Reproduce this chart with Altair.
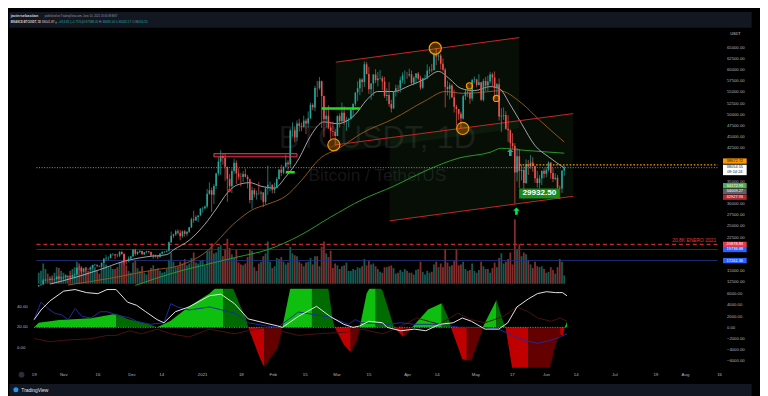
import altair as alt
import numpy as np
import pandas as pd

# ======================= DATA =======================
start_date = "2020-10-19"
first_open = 11502.0

closes = [
    11750, 11910, 12820, 12970, 12930, 13110, 13030, 13070, 13640, 13280, 13460, 13560, 13800,
    13740, 13550, 14020, 14150, 15590, 15580, 14830, 15480, 15330, 15300, 15700, 16280, 16320, 16070, 15960,
    16720, 17660, 17800, 17820, 18660, 18690, 18420, 18370, 19160, 18720, 17150, 17140, 17720, 18180, 19700,
    18770, 19210, 19420, 18650, 19150, 19360, 19170, 18320, 18550, 18250, 18030, 18800, 19170, 19270, 19440,
    21340, 22800, 23110, 23820, 23460, 22720, 23820, 23240, 23730, 24710, 26490, 26280, 27040, 27360, 28890, 28980,
    29370, 32200, 33000, 31990, 33950, 36770, 39410, 40670, 40240, 38240, 35540, 33910, 37320, 39140, 36770,
    36010, 35990, 36630, 36020, 35470, 30830, 33010, 32080, 32260, 32250, 32510, 30400, 33400, 34260, 34260, 33090,
    33500, 35510, 37620, 36920, 38290, 39190, 38800, 46370, 46400, 44810, 47970, 47400, 47190, 48580,
    47930, 49130, 52120, 51550, 55910, 55840, 57410, 54090, 48890, 49680, 47020, 46280, 46100, 45140,
    49590, 48440, 50350, 48370, 48760, 48880, 50970, 52380, 54880, 55850, 57770, 57220, 61190, 59000, 55600,
    56900, 58910, 57650, 58030, 58100, 57350, 54080, 54340, 52300, 51300, 55030, 55820, 55780, 57630, 58730, 58740,
    58720, 58970, 57060, 58200, 59130, 58000, 55950, 58080, 58090, 59770, 60000, 59860, 63580, 62960, 63160,
    61330, 60000, 56150, 55660, 56470, 53800, 51700, 51190, 50100, 49060, 54030, 55030, 54860, 53560, 57690,
    57800, 56580, 57160, 53240, 57470, 56430, 57340, 58930, 58230, 55850, 56750, 49500, 49690, 49860, 46760,
    46430, 43540, 42910, 36960, 40600, 37290, 37530, 34650, 38800, 38310, 39240, 38440, 35660, 34610, 35680, 37300,
    36690, 37570, 39190, 36840, 35520, 35800, 33550, 33380, 37390, 38054.55,
]
highs = [
    11800, 12030, 13220, 13180, 13030, 13170, 13350, 13250, 13790, 13860, 13640, 13680, 14100,
    13900, 13820, 14070, 14260, 15750, 15970, 15770, 15650, 15840, 15480, 15970, 16340, 16480, 16330, 16150,
    16880, 17860, 18480, 18180, 18800, 18960, 18700, 18770, 19420, 19480, 18920, 17460, 18180, 18340, 19860,
    19890, 19340, 19600, 19510, 19180, 19420, 19410, 19290, 18640, 18560, 18280, 18950, 19410, 19350, 19570,
    21560, 23770, 23280, 24170, 24290, 24100, 23990, 24100, 23800, 24790, 26870, 28420, 27390, 27400, 28990, 29300,
    29600, 33300, 34780, 33600, 34360, 36940, 40370, 41950, 41380, 41350, 38260, 36630, 37850, 40100, 39700,
    37950, 36850, 37300, 37850, 36420, 35600, 33830, 33460, 32940, 34880, 32920, 32560, 33780, 38530, 34930, 34280,
    34720, 35980, 37660, 38700, 38310, 40960, 39700, 46790, 48200, 47310, 48630, 48980, 48150, 49710,
    49000, 50650, 52620, 52480, 56370, 57490, 58350, 57530, 54180, 51370, 52000, 48370, 48390, 46640,
    49790, 50200, 52640, 51770, 49450, 49200, 51450, 52400, 54900, 57390, 58150, 58060, 61840, 61680, 60630,
    56930, 58970, 60100, 59470, 59880, 58590, 58400, 55830, 57200, 53240, 55070, 56640, 56560, 58400, 59370, 59800,
    59490, 60200, 59790, 58490, 59250, 59480, 58650, 58150, 58870, 61200, 60690, 61300, 63770, 64850, 63820,
    63590, 62500, 60400, 57530, 57100, 56770, 55500, 52140, 51170, 50590, 54360, 55460, 56430, 55200, 57960,
    58450, 57950, 58970, 57200, 57960, 58380, 58650, 59500, 59300, 59600, 57000, 58000, 51370, 51560, 50700,
    49800, 46640, 45800, 43550, 42450, 42200, 38830, 38270, 39920, 39790, 40900, 40410, 38200, 37340, 36400, 37470,
    37900, 38230, 39480, 39290, 37920, 36790, 36400, 34070, 37530, 38491.00,
]
lows = [
    11410, 11680, 11900, 12680, 12730, 12890, 12900, 12780, 13040, 12980, 12950, 13110, 13420,
    13600, 13200, 13290, 13530, 14090, 15180, 14350, 14700, 14820, 15100, 15280, 15430, 15960, 15700, 15790,
    15880, 16560, 17210, 17330, 17770, 18330, 17610, 18000, 18020, 18570, 16330, 16440, 16880, 17520, 18170,
    18320, 18510, 18960, 18590, 18500, 18860, 18900, 18200, 17650, 17910, 17570, 18020, 18710, 19000, 19050,
    19290, 21230, 22350, 22750, 23060, 21810, 22350, 22600, 22700, 23430, 24500, 25700, 26100, 25880, 27320, 28000,
    28620, 28950, 32000, 28130, 29900, 33290, 36300, 36500, 38720, 35110, 30420, 32530, 32380, 36700, 34410,
    35360, 33850, 34870, 35880, 33400, 30070, 28850, 31390, 30900, 31900, 30840, 29240, 29840, 31990, 32820, 32300,
    32300, 33420, 35360, 36160, 36570, 38210, 37350, 37990, 45020, 43730, 43990, 46130, 46200, 47020,
    45570, 47020, 48950, 50900, 50710, 53860, 55480, 46930, 44890, 47000, 46700, 44100, 45000, 43000,
    45110, 47050, 48100, 47500, 46300, 47070, 48880, 49270, 51850, 53000, 54270, 54960, 56080, 58960, 54570,
    53270, 54120, 57020, 56270, 57820, 55450, 53650, 53000, 51700, 50430, 51280, 53960, 54700, 54900, 57000, 56770,
    57930, 58400, 56800, 56480, 56800, 57630, 55470, 55700, 57690, 57870, 59000, 59380, 59870, 61000, 62020,
    60000, 59580, 51540, 54220, 53330, 53630, 50400, 47500, 48750, 47000, 48810, 53220, 53890, 52330, 53010,
    57050, 56020, 56460, 53000, 52880, 55200, 55240, 56900, 56230, 53400, 54370, 48600, 46000, 48760, 46550,
    43830, 42000, 42250, 30000, 34950, 33490, 35200, 31110, 34420, 36420, 37800, 37130, 34680, 33630, 33380, 34150,
    35670, 35920, 37170, 35570, 34800, 35250, 33330, 31000, 32400, 36242.57,
]
volume_k = [
    60, 70, 110, 80, 55, 40, 45, 60, 90, 85, 70, 60, 50,
    45, 70, 80, 90, 120, 110, 95, 70, 90, 70, 85, 100, 90, 70, 55, 95, 110, 105, 90, 95, 80, 80, 90, 115, 120,
    160, 100, 70, 60, 115,
    130, 85, 70, 95, 60, 50, 70, 85, 100, 80, 85, 70, 60, 65, 80, 130, 170, 120, 90, 95, 120, 110, 135, 100,
    110, 140, 170, 115, 110, 125, 130,
    100, 175, 180, 220, 165, 170, 200, 210, 150, 190, 245, 195, 160, 140, 185, 115, 105, 100, 110, 145, 185,
    180, 90, 70, 110, 120, 150, 165, 230, 120, 85,
    95, 140, 135, 145, 120, 105, 115, 200, 165, 155, 150, 120, 110, 95, 115, 120, 140, 105, 150, 150, 95, 200,
    230, 165, 145, 180, 85, 110,
    100, 80, 95, 100, 115, 70, 70, 80, 75, 90, 85, 95, 135, 100, 125, 105, 110, 95, 80, 65, 60, 90, 90, 95,
    100, 85, 55, 60, 75, 65, 80,
    70, 60, 60, 50, 75, 80, 120, 65, 50, 70, 60, 65, 105, 120, 90, 110, 90, 185, 115, 95, 100, 125, 190, 100,
    105, 120, 80, 70, 75, 110,
    70, 60, 75, 120, 95, 80, 80, 60, 85, 115, 90, 140, 165, 110, 120, 135, 170, 105, 350, 190, 215, 150, 170,
    160, 130, 105, 85, 120, 95, 90, 95,
    80, 60, 65, 90, 75, 55, 90, 135, 120, 45,
]

# moving averages
ma_fast_dates = ["2020-10-24", "2020-11-05", "2020-11-15", "2020-11-26", "2020-12-06", "2020-12-15",
                 "2020-12-18", "2020-12-25", "2021-01-01", "2021-01-06", "2021-01-11", "2021-01-15",
                 "2021-01-21", "2021-01-26", "2021-02-01", "2021-02-06", "2021-02-12", "2021-02-17",
                 "2021-02-23", "2021-03-01", "2021-03-09", "2021-03-14", "2021-03-19", "2021-03-26",
                 "2021-04-02", "2021-04-09", "2021-04-15", "2021-04-20", "2021-04-25", "2021-05-01",
                 "2021-05-08", "2021-05-12", "2021-05-17", "2021-05-22", "2021-05-28", "2021-06-03",
                 "2021-06-10"]
ma_fast = [12000, 13600, 15200, 17100, 18100, 18600, 19650, 21800, 25400, 28800, 32400, 34100, 34700,
           33900, 33500, 36000, 40200, 45100, 48300, 47900, 50000, 53200, 55100, 55100, 56400, 57900,
           59600, 57900, 55800, 55300, 56200, 55800, 52100, 47900, 43000, 40500, 38000]
ma_mid_dates = ["2020-11-01", "2020-11-20", "2020-12-11", "2020-12-18", "2021-01-01", "2021-01-15",
                "2021-01-22", "2021-01-29", "2021-02-06", "2021-02-13", "2021-02-21", "2021-03-02",
                "2021-03-12", "2021-03-26", "2021-04-09", "2021-04-18", "2021-04-26", "2021-05-08",
                "2021-05-12", "2021-05-22", "2021-05-30", "2021-06-10"]
ma_mid = [11800, 13300, 15300, 15800, 19000, 26000, 28600, 29900, 31700, 35200, 40000, 42500, 45800,
          49000, 53000, 55100, 54700, 55100, 55300, 52500, 48700, 43800]
ma_slow_dates = ["2020-12-01", "2020-12-18", "2021-01-06", "2021-01-15", "2021-01-29", "2021-02-12",
                 "2021-02-26", "2021-03-12", "2021-03-26", "2021-04-09", "2021-04-24", "2021-05-08",
                 "2021-05-13", "2021-05-22", "2021-06-10"]
ma_slow = [11700, 14500, 16900, 18000, 19700, 22800, 27000, 30900, 33900, 37300, 40200, 41500, 42400,
           42000, 41300]

# drawn channels
channel_start = ["2021-02-28 07:00", "2021-02-28 07:00", "2021-03-24 05:00"]
channel_end = ["2021-05-21", "2021-06-14", "2021-06-14"]
channel_p0 = [61670, 43170, 26150]
channel_p1 = [67180, 50160, 31660]
zone_start = ["2021-02-28 07:00", "2021-03-24 05:00"]
zone_end = ["2021-05-21", "2021-06-14"]
zone_top0 = [61670, 44760]
zone_top1 = [67180, 50160]
zone_bot0 = [41470, 26150]
zone_bot1 = [46870, 31660]

# horizontal levels
level_prices = [20878.83, 19736.68, 17261.36, 38054.55, 38672.72]
level_start = ["2020-10-18", "2020-10-18", "2020-10-18", "2020-10-18", "2021-05-21"]

# annotations
circle_dates = ["2021-02-27 10:00", "2021-04-13 14:00", "2021-04-25 19:00"]
circle_prices = [43170, 64790, 46840]
small_circle_dates = ["2021-04-28 19:00", "2021-05-10 19:00"]
small_circle_prices = [56370, 53550]
gbar_start = ["2021-02-22", "2021-02-06"]
gbar_end = ["2021-03-11", "2021-02-10"]
gbar_price = [51290, 37020]
rbox_start, rbox_end, rbox_lo, rbox_hi = "2021-01-05", "2021-02-11", 40480, 41200
rdot_date, rdot_price = "2021-01-12", 33000
arrow_dates = ["2021-05-19 17:00", "2021-05-17"]
arrow_prices = [28330, 41480]
low_label_date, low_label_price, low_label_text = "2021-05-29 22:00", 32280, "29932.50"
level_note = "20,8K ENERO 2021"

tag_prices = [38672.72, 38054.55, 34172.93, 34009.27, 32927.93, 20878.83, 19736.68, 17261.36]
tag_texts = ["38672.72", "38054.55", "34172.93", "34009.27", "32927.93", "20878.83", "19736.68", "17261.36"]
countdown = "09:14:24"
price_ticks = [12500, 15000, 22500, 25000, 27500, 30000, 35000, 42500, 45000, 47500, 50000,
               52500, 55000, 57500, 60000, 62500, 65000]

# header
author = "javiersebastian"
published = "published on TradingView.com, June 10, 2021 15:05:38 BST"
symbol = "BINANCE:BTCUSDT, 1D"
last_price = "38041.87"
change = "+653.82 (+1.75%)"
ohlc_o, ohlc_h, ohlc_l, ohlc_c = "37388.05", "38491.00", "36242.57", "38054.55"

# time axis
tick_dates = ["2020-10-19", "2020-11-01", "2020-11-16", "2020-12-01", "2020-12-14", "2021-01-01",
              "2021-01-18", "2021-02-01", "2021-02-15", "2021-03-01", "2021-03-15", "2021-04-01",
              "2021-04-14", "2021-05-01", "2021-05-17", "2021-06-01", "2021-06-14", "2021-07-01",
              "2021-07-19", "2021-08-01", "2021-08-16"]
tick_labels = ["19", "Nov", "16", "Dec", "14", "2021", "18", "Feb", "15", "Mar", "15", "Apr", "14",
               "May", "17", "Jun", "14", "Jul", "19", "Aug", "16"]

# lower indicator: momentum histogram
hist_dates = [
    "2020-10-19", "2020-10-21", "2020-10-30", "2020-11-13", "2020-11-24",
    "2020-11-24", "2020-11-29", "2020-12-08", "2020-12-12",
    "2020-12-12", "2020-12-18", "2020-12-26", "2021-01-04", "2021-01-08", "2021-01-10",
    "2021-01-10", "2021-01-14", "2021-01-17", "2021-01-20", "2021-01-21",
    "2021-01-21", "2021-01-26", "2021-01-28",
    "2021-01-28", "2021-02-03", "2021-02-05",
    "2021-02-05", "2021-02-09", "2021-02-18",
    "2021-02-18", "2021-02-25", "2021-02-27", "2021-02-28",
    "2021-02-28", "2021-03-04", "2021-03-07",
    "2021-03-07", "2021-03-10", "2021-03-11",
    "2021-03-11", "2021-03-14", "2021-03-16", "2021-03-18",
    "2021-03-18", "2021-03-21", "2021-03-24", "2021-03-26",
    "2021-03-26", "2021-03-30",
    "2021-03-30", "2021-04-01", "2021-04-03",
    "2021-04-03", "2021-04-10", "2021-04-16",
    "2021-04-16", "2021-04-19", "2021-04-20",
    "2021-04-20", "2021-04-25", "2021-04-27",
    "2021-04-27", "2021-04-29", "2021-05-03", "2021-05-04",
    "2021-05-04", "2021-05-10",
    "2021-05-10", "2021-05-13", "2021-05-14",
    "2021-05-14", "2021-05-17", "2021-05-24",
    "2021-05-24", "2021-06-02", "2021-06-05", "2021-06-07",
    "2021-06-07", "2021-06-08", "2021-06-09",
    "2021-06-09", "2021-06-10",
]
hist_vals = [
    0, 800, 1300, 1600, 2400,
    2400, 1450, 600, 0,
    0, 1160, 3700, 6000, 7500, 7800,
    7800, 7300, 4300, 1570, 0,
    0, -5370, -7100,
    -7100, -3670, 0,
    0, 8000, 9000,
    9000, 7500, 1450, 0,
    0, -3100, -4520,
    -4520, -2250, 0,
    0, 6000, 7500, 8000,
    8000, 6500, 2640, 0,
    0, -1680,
    -1680, -1110, 0,
    0, 3160, 4300,
    4300, 1500, 0,
    0, -5660, -5900,
    -5900, -5940, -1400, 0,
    0, 4860,
    4860, 890, 0,
    0, -7500, -9000,
    -9000, -8000, -3000, -1300,
    -1300, -1600, 0,
    0, 1000,
]
hist_kind = (["L"] * 5 + ["G"] * 4 + ["L"] * 6 + ["G"] * 5 + ["R"] * 3 + ["M"] * 3 + ["L"] * 3 + ["G"] * 4
             + ["R"] * 3 + ["M"] * 3 + ["L"] * 4 + ["G"] * 4 + ["R"] * 2 + ["M"] * 3 + ["L"] * 3 + ["G"] * 3
             + ["R"] * 3 + ["M"] * 4 + ["L"] * 2 + ["G"] * 3 + ["R"] * 3 + ["M"] * 4 + ["R"] * 3 + ["L"] * 2)

# lower indicator lines (left scale)
adx_dates = ["2020-10-19", "2020-10-22", "2020-10-26", "2020-11-01", "2020-11-06", "2020-11-11",
             "2020-11-16", "2020-11-20", "2020-11-24", "2020-11-29", "2020-12-03", "2020-12-07",
             "2020-12-12", "2020-12-15", "2020-12-20", "2020-12-26", "2021-01-04", "2021-01-09",
             "2021-01-15", "2021-01-21", "2021-01-28", "2021-02-03", "2021-02-05", "2021-02-12",
             "2021-02-20", "2021-02-26", "2021-03-04", "2021-03-08", "2021-03-11", "2021-03-15",
             "2021-03-21", "2021-03-23", "2021-03-29", "2021-04-04", "2021-04-09", "2021-04-15",
             "2021-04-21", "2021-04-25", "2021-04-29", "2021-05-05", "2021-05-11", "2021-05-15",
             "2021-05-19", "2021-05-24", "2021-05-28", "2021-06-01", "2021-06-05", "2021-06-08",
             "2021-06-10"]
adx_vals = [27.6, 37, 46, 55.5, 57, 54, 53, 57, 57, 44.7, 41.6, 35.3, 27.6, 24.5, 35.3, 40, 50.9, 52.5,
            43.2, 28.3, 24.5, 21.4, 20, 30.7, 40.6, 30.7, 23, 20, 21.4, 26, 24.5, 20, 16.7, 18.3, 16.7,
            23, 24.5, 29.2, 26, 18.3, 18.3, 24.5, 40, 47.8, 53, 54.9, 54, 54, 50.9]
dip_dates = ["2020-10-19", "2020-10-22", "2020-10-25", "2020-10-28", "2020-10-31", "2020-11-03",
             "2020-11-06", "2020-11-09", "2020-11-13", "2020-11-17", "2020-11-20", "2020-11-24",
             "2020-11-30", "2020-12-03", "2020-12-09", "2020-12-15", "2020-12-18", "2020-12-21",
             "2020-12-26", "2021-01-04", "2021-01-15", "2021-01-21", "2021-01-29", "2021-02-03",
             "2021-02-12", "2021-02-26", "2021-03-06", "2021-03-09", "2021-03-12", "2021-03-23",
             "2021-03-29", "2021-04-04", "2021-04-15", "2021-04-24", "2021-05-04", "2021-05-11",
             "2021-05-17", "2021-05-22", "2021-05-28", "2021-06-03", "2021-06-07", "2021-06-10"]
dip_vals = [27.6, 44.7, 38.5, 33.9, 32.3, 27.6, 38.5, 30.7, 29.2, 35.3, 35.3, 32.3, 29.2, 26, 23, 24.5,
            43.2, 40, 37, 40, 34, 24.5, 21.4, 20, 35, 30, 23, 27.6, 24.5, 23, 24.5, 23, 23, 20, 20, 18.3,
            12.1, 7.4, 4.4, 7.4, 10.6, 13.7]
dim_dates = ["2020-10-19", "2020-10-26", "2020-11-01", "2020-11-13", "2020-11-20", "2020-11-24",
             "2020-11-30", "2020-12-05", "2020-12-12", "2020-12-18", "2020-12-26", "2021-01-04",
             "2021-01-15", "2021-01-21", "2021-01-29", "2021-02-04", "2021-02-12", "2021-02-20",
             "2021-03-04", "2021-03-12", "2021-03-21", "2021-03-23", "2021-04-01", "2021-04-05",
             "2021-04-15", "2021-04-23", "2021-04-29", "2021-05-05", "2021-05-13", "2021-05-19",
             "2021-05-24", "2021-05-28", "2021-06-03", "2021-06-07", "2021-06-10"]
dim_vals = [9, 6, 7.4, 9, 12.1, 12.1, 16.7, 13.7, 18.3, 13.7, 10.6, 18.3, 13.7, 16.7, 20, 16.7, 12.1,
            13.7, 15.2, 18.3, 13.7, 15.2, 24.5, 29.2, 23, 33.9, 27.6, 24.5, 30.7, 40, 35.3, 29.2, 26,
            29.2, 26]
ind_level = 20
ind_left_ticks = [40, 20, 0]
ind_right_ticks = [6000, 4000, 2000, 0, -2000, -4000, -6000]

assert len(closes) == len(highs) == len(lows) == len(volume_k)
assert len(hist_dates) == len(hist_vals) == len(hist_kind)
assert len(adx_dates) == len(adx_vals) and len(dip_dates) == len(dip_vals) and len(dim_dates) == len(dim_vals)

# ======================= LAYOUT / STYLE =======================
REF = pd.Timestamp("2021-01-01")


def tnum(s):
    return (pd.Timestamp(s) - REF).total_seconds() / 86400.0


W = 723
FULL_W = 752
H_HEAD, H_MAIN, H_IND, H_TIME, H_FOOT = 16, 260, 80, 12, 12
FONT = "Liberation Sans"
AXC = "#b2b5be"
UP, DOWN = "#26a69a", "#ef5350"
X_DOM = [tnum("2020-10-07 23:00"), tnum("2021-08-17 06:30")]

xs = alt.Scale(domain=X_DOM, nice=False, zero=False)
price_sc = alt.Scale(domain=[11589, 69027], nice=False, zero=False)
vol_sc = alt.Scale(domain=[-11.8, 1384], nice=False, zero=False)
hist_sc = alt.Scale(domain=[-7239, 6849], nice=False, zero=False)
adx_sc = alt.Scale(domain=[-19.53, 57.67], nice=False, zero=False)


def XQ(f="t"):
    return alt.X(f"{f}:Q", scale=xs, axis=None)


def PY(f, axis=None):
    return alt.Y(f"{f}:Q", scale=price_sc, axis=axis)


one = pd.DataFrame({"a": [0]})

# ---------- candles table ----------
dates = pd.date_range(start_date, periods=len(closes), freq="D")
opens = [first_open] + closes[:-1]
cdf = pd.DataFrame({
    "t": [tnum(d) for d in dates], "open": opens, "high": highs, "low": lows,
    "close": closes, "vol": volume_k,
})
cdf["col"] = np.where(cdf["close"] >= cdf["open"], UP, DOWN)

# ======================= HEADER =======================
def htext(txt, x, y, color, bold=False, size=3.1, font=FONT):
    return alt.Chart(one).mark_text(
        text=txt, align="left", baseline="middle", fontSize=size, font=font,
        fontWeight="bold" if bold else "normal", color=color,
    ).encode(x=alt.value(x), y=alt.value(y))


GREEN_T = "#26a69a"
header = alt.layer(
    htext(author, 1.7, 5.0, "#d1d4dc", bold=True, size=3.9),
    htext(published, 36.3, 5.0, "#9598a1", size=2.75),
    htext(symbol, 1.7, 10.8, "#d1d4dc", bold=True, size=2.7),
    htext(last_price, 33.3, 10.8, "#d1d4dc"),
    htext("▲", 46.6, 10.8, GREEN_T, size=2.8, font="DejaVu Sans"),
    htext(change, 50.0, 10.8, GREEN_T),
    htext("O:", 74.4, 10.8, "#9598a1"),
    htext(ohlc_o, 77.6, 10.8, GREEN_T),
    htext("H:", 91.2, 10.8, "#9598a1"),
    htext(ohlc_h, 94.8, 10.8, GREEN_T),
    htext("L:", 108.6, 10.8, "#9598a1"),
    htext(ohlc_l, 111.0, 10.8, GREEN_T),
    htext("C:", 124.8, 10.8, "#9598a1"),
    htext(ohlc_c, 127.6, 10.8, GREEN_T),
).properties(width=FULL_W, height=H_HEAD,
             view=alt.ViewBackground(fill="#131722", stroke="transparent"))

# ======================= MAIN PANE =======================
layers = []

wm_t = tnum("2021-03-18 19:00")
layers.append(alt.Chart(pd.DataFrame({"t": [wm_t], "p": [44440]})).mark_text(
    text="BTCUSDT, 1D", fontSize=31, font=FONT, color="#161616", align="center", baseline="middle"
).encode(x=XQ(), y=PY("p")))
layers.append(alt.Chart(pd.DataFrame({"t": [wm_t], "p": [36180]})).mark_text(
    text="Bitcoin / TetherUS", fontSize=17.5, font=FONT, color="#161616", align="center", baseline="middle"
).encode(x=XQ(), y=PY("p")))

zrows = []
for i in range(len(zone_start)):
    zrows.append({"zone": i, "t": tnum(zone_start[i]), "top": zone_top0[i], "bot": zone_bot0[i]})
    zrows.append({"zone": i, "t": tnum(zone_end[i]), "top": zone_top1[i], "bot": zone_bot1[i]})
layers.append(alt.Chart(pd.DataFrame(zrows)).mark_area(color="#4caf50", opacity=0.08).encode(
    x=XQ(), y=PY("top"), y2="bot:Q", detail="zone:N"))

layers.append(alt.Chart(cdf).mark_bar(size=1.8, opacity=0.55).encode(
    x=XQ(), y=alt.Y("vol:Q", scale=vol_sc, axis=None), color=alt.Color("col:N", scale=None)))

level_styles = [
    dict(color="#c62828", strokeWidth=1.4, strokeDash=[4, 3]),
    dict(color="#22337e", strokeWidth=0.9),
    dict(color="#22337e", strokeWidth=0.9),
    dict(color="#a3a6af", strokeWidth=0.9, strokeDash=[1, 1.6]),
    dict(color="#ff9800", strokeWidth=1.1, strokeDash=[1.6, 1.8]),
]


def level_layer(i):
    d = pd.DataFrame({"t0": [tnum(level_start[i])], "t1": [X_DOM[1]], "p": [level_prices[i]]})
    return alt.Chart(d).mark_rule(**level_styles[i]).encode(x=XQ("t0"), x2="t1:Q", y=PY("p"))


for i in range(3):
    layers.append(level_layer(i))


def ma_layer(ds, vs, color, width=1.0):
    d = pd.DataFrame({"t": [tnum(s) for s in ds], "p": vs})
    return alt.Chart(d).mark_line(color=color, strokeWidth=width, interpolate="monotone").encode(
        x=XQ(), y=PY("p"))


layers.append(ma_layer(ma_slow_dates, ma_slow, "#2a9a2a"))
layers.append(ma_layer(ma_mid_dates, ma_mid, "#8f561d"))
layers.append(ma_layer(ma_fast_dates, ma_fast, "#b4b7be", 0.9))

crow = []
for i in range(len(channel_start)):
    crow.append({"ln": i, "t": tnum(channel_start[i]), "p": channel_p0[i]})
    crow.append({"ln": i, "t": tnum(channel_end[i]), "p": channel_p1[i]})
layers.append(alt.Chart(pd.DataFrame(crow)).mark_line(color="#c62828", strokeWidth=1).encode(
    x=XQ(), y=PY("p"), detail="ln:N"))

price_axis = alt.Axis(orient="right", values=price_ticks, format=".2f", labelColor=AXC,
                      labelFontSize=4.3, labelFont=FONT, ticks=False, domain=False, grid=False,
                      labelPadding=4, labelFlush=False, labelOverlap=False, labelAlign="left")
layers.append(alt.Chart(cdf).mark_rule(strokeWidth=0.7).encode(
    x=XQ(), y=PY("low"), y2="high:Q", color=alt.Color("col:N", scale=None)))
layers.append(alt.Chart(cdf).mark_bar(size=1.6).encode(
    x=XQ(), y=PY("open", axis=price_axis), y2="close:Q", color=alt.Color("col:N", scale=None)))

for i in range(3, 5):
    layers.append(level_layer(i))

# annotations
layers.append(alt.Chart(pd.DataFrame({"t": [tnum(s) for s in circle_dates], "p": circle_prices}))
              .mark_point(shape="circle", filled=True, size=150, color="#ff9800", fillOpacity=0.3,
                          stroke="#ff9800", strokeWidth=1.2, strokeOpacity=1)
              .encode(x=XQ(), y=PY("p")))
layers.append(alt.Chart(pd.DataFrame({"t": [tnum(s) for s in small_circle_dates], "p": small_circle_prices}))
              .mark_point(shape="circle", filled=True, size=40, color="#ff9800", fillOpacity=0.3,
                          stroke="#ff9800", strokeWidth=1.1, strokeOpacity=1)
              .encode(x=XQ(), y=PY("p")))
layers.append(alt.Chart(pd.DataFrame({"t0": [tnum(s) for s in gbar_start], "t1": [tnum(s) for s in gbar_end],
                                      "p": gbar_price}))
              .mark_rule(color="#1ee01e", strokeWidth=2.6).encode(x=XQ("t0"), x2="t1:Q", y=PY("p")))
layers.append(alt.Chart(pd.DataFrame({"t0": [tnum(rbox_start)], "t1": [tnum(rbox_end)],
                                      "lo": [rbox_lo], "hi": [rbox_hi]}))
              .mark_rect(fill="#f23645", fillOpacity=0.15, stroke="#f23645", strokeWidth=1)
              .encode(x=XQ("t0"), x2="t1:Q", y=PY("lo"), y2="hi:Q"))
layers.append(alt.Chart(pd.DataFrame({"t": [tnum(rdot_date)], "p": [rdot_price]}))
              .mark_square(size=7, color="#ff1a1a", opacity=1).encode(x=XQ(), y=PY("p")))
ARROW = "M0,-1L0.9,-0.1L0.36,-0.1L0.36,1L-0.36,1L-0.36,-0.1L-0.9,-0.1Z"
layers.append(alt.Chart(pd.DataFrame({"t": [tnum(arrow_dates[0])], "p": [arrow_prices[0]]}))
              .mark_point(shape=ARROW, filled=True, size=55, color="#00e64d", opacity=1)
              .encode(x=XQ(), y=PY("p")))
layers.append(alt.Chart(pd.DataFrame({"t": [tnum(arrow_dates[1])], "p": [arrow_prices[1]]}))
              .mark_point(shape=ARROW, filled=True, size=55, color="#26a69a", opacity=1)
              .encode(x=XQ(), y=PY("p")))

lab = pd.DataFrame({"t": [tnum(low_label_date)], "p": [low_label_price], "txt": [low_label_text]})
layers.append(alt.Chart(lab).mark_tick(orient="horizontal", size=41, thickness=10.3, color="#168f1a",
                                       opacity=1).encode(x=XQ(), y=PY("p")))
layers.append(alt.Chart(lab).mark_text(fontSize=8.2, font=FONT, fontWeight="bold", color="#ffffff",
                                       align="center", baseline="middle")
              .encode(x=XQ(), y=PY("p"), text="txt:N"))

note = pd.DataFrame({"t": [X_DOM[1] - 0.6], "p": [level_prices[0]], "txt": [level_note]})
layers.append(alt.Chart(note).mark_text(fontSize=5, font=FONT, color="#e53935", align="right",
                                        baseline="bottom", dy=-1.5)
              .encode(x=XQ(), y=PY("p"), text="txt:N"))

# price tags on the scale
tag_style = [
    ("#ff9800", "#131722", -3.9, 5.4),
    ("#ffffff", "#131722", 2.3, 10.6),
    ("#4caf50", "#ffffff", 0.7, 5.4),
    ("#5d606b", "#ffffff", 5.8, 5.4),
    ("#b22833", "#ffffff", 6.7, 5.4),
    ("#f23645", "#ffffff", 0.0, 5.4),
    ("#2962ff", "#ffffff", 0.0, 5.4),
    ("#2962ff", "#ffffff", 0.0, 5.4),
]
TAG_X = W + 12.5
for i, (bg, fg, dy, th) in enumerate(tag_style):
    d = pd.DataFrame({"p": [tag_prices[i]], "txt": [tag_texts[i]]})
    layers.append(alt.Chart(d).mark_tick(orient="horizontal", size=24, thickness=th, color=bg, opacity=1,
                                         yOffset=dy).encode(x=alt.value(TAG_X), y=PY("p")))
    tdy = -0.6 if i == 1 else dy
    layers.append(alt.Chart(d).mark_text(fontSize=4.0, font=FONT, color=fg, align="center",
                                         baseline="middle", dy=tdy)
                  .encode(x=alt.value(TAG_X), y=PY("p"), text="txt:N"))
layers.append(alt.Chart(pd.DataFrame({"p": [tag_prices[1]], "txt": [countdown]}))
              .mark_text(fontSize=4.0, font=FONT, color="#131722", align="center", baseline="middle", dy=4.6)
              .encode(x=alt.value(TAG_X), y=PY("p"), text="txt:N"))
layers.append(alt.Chart(one).mark_text(text="USDT", fontSize=3.8, font=FONT, color="#d1d4dc",
                                       align="center", baseline="middle")
              .encode(x=alt.value(W + 13), y=alt.value(4.8)))

main = alt.layer(*layers).resolve_scale(y="independent").properties(width=W, height=H_MAIN)

# ======================= INDICATOR PANE =======================
HCOL = {"L": "#0fbf0f", "G": "#006b00", "R": "#c00000", "M": "#650000"}
seg = [0]
for i in range(1, len(hist_kind)):
    seg.append(seg[-1] + (1 if hist_kind[i] != hist_kind[i - 1] else 0))
hdf = pd.DataFrame({"t": [tnum(s) for s in hist_dates], "v": hist_vals, "seg": seg,
                    "col": [HCOL[k] for k in hist_kind]})
ind_axis = alt.Axis(orient="right", values=ind_right_ticks, format=".2f", labelColor=AXC,
                    labelFontSize=4.3, labelFont=FONT, ticks=False, domain=False, grid=False,
                    labelPadding=4, labelFlush=False, labelOverlap=False, labelAlign="left")

ind_layers = [
    alt.Chart(hdf).mark_area(clip=True, opacity=1).encode(
        x=XQ(), y=alt.Y("v:Q", scale=hist_sc, axis=ind_axis, stack=None),
        color=alt.Color("col:N", scale=None), detail="seg:N"),
]


def adx_line(ds, vs, color, width=1.0):
    d = pd.DataFrame({"t": [tnum(s) for s in ds], "v": vs})
    return alt.Chart(d).mark_line(color=color, strokeWidth=width, clip=True).encode(
        x=XQ(), y=alt.Y("v:Q", scale=adx_sc, axis=None))


ind_layers.append(alt.Chart(pd.DataFrame({"t0": [tnum("2020-10-19")], "t1": [tnum("2021-06-10")],
                                          "v": [ind_level]}))
                  .mark_rule(color="#8a8d96", strokeWidth=0.9, strokeDash=[1, 1.5])
                  .encode(x=XQ("t0"), x2="t1:Q", y=alt.Y("v:Q", scale=adx_sc, axis=None)))
ind_layers.append(adx_line(dim_dates, dim_vals, "#4a1010"))
ind_layers.append(adx_line(dip_dates, dip_vals, "#1f2a9c"))
ind_layers.append(adx_line(adx_dates, adx_vals, "#e6e6e6"))
ind_layers.append(alt.Chart(pd.DataFrame({"v": ind_left_ticks})).mark_text(
    fontSize=4.4, font=FONT, color=AXC, align="left", baseline="middle").encode(
    x=alt.value(8), y=alt.Y("v:Q", scale=adx_sc, axis=None), text=alt.Text("v:Q", format=".2f")))

ind = alt.layer(*ind_layers).resolve_scale(y="independent").properties(width=W, height=H_IND)

# ======================= TIME AXIS =======================
tdf = pd.DataFrame({"t": [tnum(s) for s in tick_dates], "lab": tick_labels})
timec = alt.layer(
    alt.Chart(one).mark_point(shape="circle", filled=True, size=34, color="#2a2e39", opacity=1)
    .encode(x=alt.value(12.7), y=alt.value(5)),
    alt.Chart(tdf).mark_text(fontSize=4.4, font=FONT, color=AXC, align="center", baseline="middle")
    .encode(x=XQ(), y=alt.value(5), text="lab:N"),
).properties(width=W, height=H_TIME)

# ======================= FOOTER =======================
footer = alt.layer(
    alt.Chart(one).mark_point(shape="circle", filled=True, size=26, color="#2196f3", opacity=1)
    .encode(x=alt.value(7), y=alt.value(6.2)),
    alt.Chart(one).mark_text(text="TradingView", fontSize=5, font=FONT, color="#e0e3eb",
                             align="left", baseline="middle")
    .encode(x=alt.value(12.5), y=alt.value(6.2)),
).properties(width=FULL_W, height=H_FOOT,
             view=alt.ViewBackground(fill="#131722", stroke="transparent"))

chart = alt.vconcat(header, main, ind, timec, footer, spacing=0, padding=0,
                    background="#000000").configure_view(stroke="transparent")

chart.save("out.html", embed_options={"renderer": "svg", "actions": False})
